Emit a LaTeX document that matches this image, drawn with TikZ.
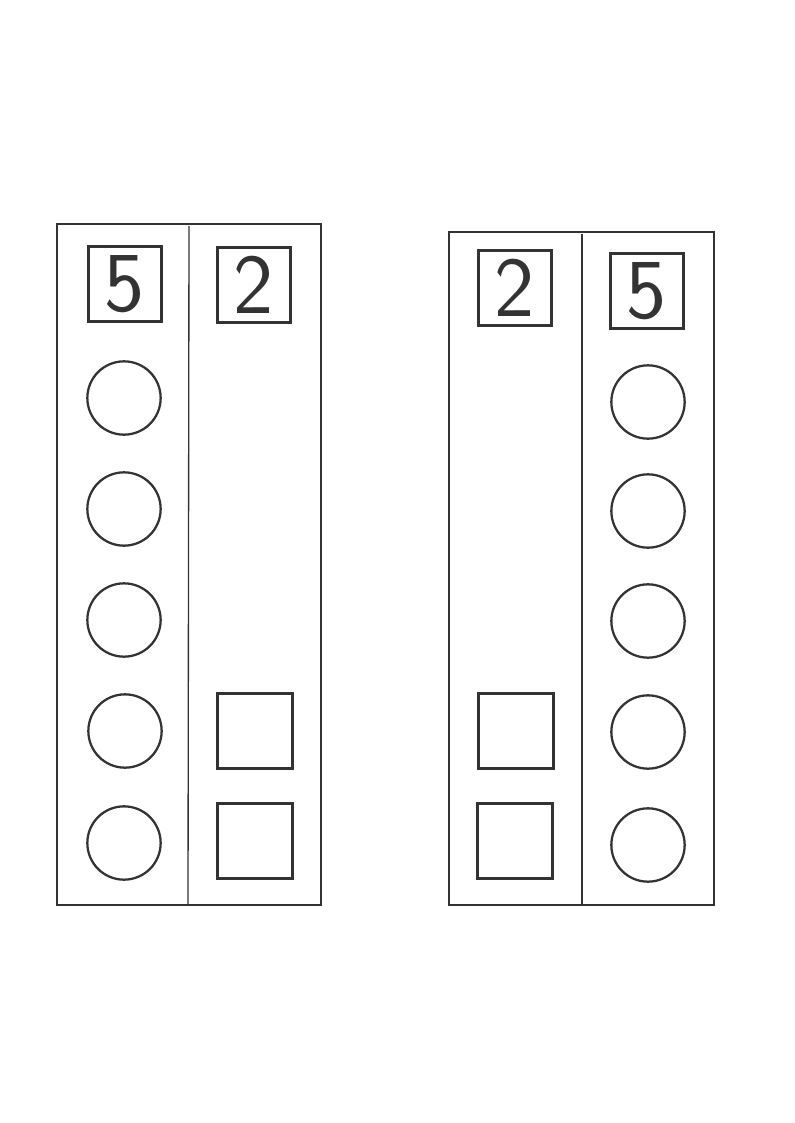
\documentclass[tikz,border=0pt]{standalone}
\usepackage{fontspec}
\setsansfont{Latin Modern Sans}
\tikzset{
  numbox/.style={draw,line width=1.8pt,minimum width=55pt,minimum height=56pt,inner sep=0pt,font=\sffamily\fontsize{64}{64}\selectfont},
  dot/.style={draw,circle,line width=1.7pt,minimum size=55pt,inner sep=0pt},
  sqbox/.style={draw,line width=1.8pt,minimum size=56pt,inner sep=0pt}
}
\begin{document}
\begin{tikzpicture}[x=0.75pt,y=-0.75pt,line width=1pt,color=black!80]
        \useasboundingbox (0,0) rectangle (794,1123);
        % left card
        \draw (57,224) rectangle (321,905);
        \draw (189,226) -- (188,905);
        \node[numbox] (fiveL) at (125,284){5};
        \node[numbox] (twoL) at (254,285){2};
        \node[dot] (l1) at (124,398){};
        \node[dot] (l2) at (124,509){};
        \node[dot] (l3) at (124,620){};
        \node[dot] (l4) at (125,731){};
        \node[dot] (l5) at (124,843){};
        \node[sqbox] (ls1) at (255,731){};
        \node[sqbox] (ls2) at (255,841){};
        % right card
        \draw (449,232) rectangle (714,905);
        \draw (582,234) -- (582,905);
        \node[numbox] (twoR) at (515,288){2};
        \node[numbox] (fiveR) at (647,291){5};
        \node[dot] (r1) at (648,402){};
        \node[dot] (r2) at (648,511){};
        \node[dot] (r3) at (648,621){};
        \node[dot] (r4) at (648,732){};
        \node[dot] (r5) at (648,845){};
        \node[sqbox] (rs1) at (516,731){};
        \node[sqbox] (rs2) at (515,841){};
    \end{tikzpicture}
\end{document}
